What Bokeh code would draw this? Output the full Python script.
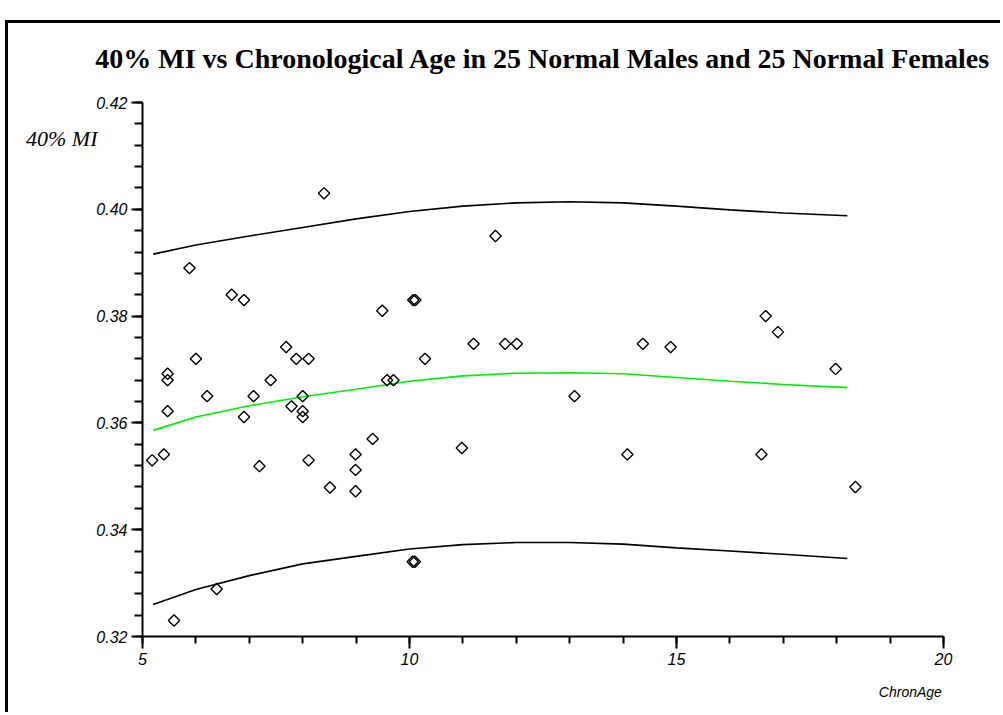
import numpy as np
from bokeh.plotting import figure
from bokeh.models import (Range1d, FixedTicker, PrintfTickFormatter, LinearAxis,
                          Title, CustomJSTickFormatter)
from bokeh.embed import file_html
from bokeh.resources import INLINE

# ---- data ----
chron_age = [8.40, 5.88, 6.67, 6.90, 9.49, 10.07, 10.11, 7.69, 6.00, 7.88,
             8.11, 10.29, 5.47, 5.47, 7.40, 9.58, 9.70, 6.21, 7.08, 8.00,
             5.47, 6.90, 7.79, 8.00, 8.00, 5.18, 5.40, 7.19, 8.11, 8.51,
             8.99, 8.99, 8.99, 9.31, 10.06, 10.10, 6.39, 5.59, 11.61, 11.20,
             11.79, 12.01, 14.37, 14.89, 13.09, 10.98, 14.08, 16.67, 16.90, 17.98,
             16.59, 18.35]
mi40 = [0.4030, 0.3890, 0.3840, 0.3830, 0.3810, 0.3830, 0.3830, 0.3742, 0.3720, 0.3720,
        0.3720, 0.3720, 0.3692, 0.3680, 0.3680, 0.3680, 0.3680, 0.3650, 0.3650, 0.3650,
        0.3622, 0.3611, 0.3631, 0.3622, 0.3611, 0.3530, 0.3541, 0.3519, 0.3530, 0.3479,
        0.3541, 0.3512, 0.3472, 0.3570, 0.3340, 0.3340, 0.3289, 0.3230, 0.3950, 0.3748,
        0.3748, 0.3748, 0.3748, 0.3742, 0.3650, 0.3553, 0.3541, 0.3800, 0.3770, 0.3701,
        0.3541, 0.3480]

curve_x = [5.2, 6, 7, 8, 9, 10, 11, 12, 13, 14, 15, 16, 17, 18.2]
fit_mid = [0.3586, 0.3611, 0.3632, 0.3649, 0.3663, 0.3678, 0.3688, 0.3693, 0.3694,
           0.3692, 0.3685, 0.3678, 0.3672, 0.3666]
fit_upper = [0.3916, 0.3933, 0.3950, 0.3966, 0.3982, 0.3996, 0.4006, 0.4012, 0.4014,
             0.4012, 0.4006, 0.3999, 0.3993, 0.3988]
fit_lower = [0.3260, 0.3288, 0.3314, 0.3336, 0.3350, 0.3364, 0.3372, 0.3376, 0.3376,
             0.3373, 0.3366, 0.3360, 0.3354, 0.3346]

x_major = [5, 10, 15, 20]
x_minor = list(range(5, 21))
y_major = [0.32, 0.34, 0.36, 0.38, 0.40, 0.42]
y_minor = [round(0.32 + 0.004 * i, 3) for i in range(26)]

title_text = "40% MI vs Chronological Age in 25 Normal Males and 25 Normal Females"
y_label = "40% MI"
x_label = "ChronAge"
y_label_at = 0.4133   # axis value beside which the y label sits
x_label_at = 19.38    # axis value under which the x label sits

# ---- figure ----
p = figure(width=995, height=692, title=None, toolbar_location=None,
           output_backend="svg",
           x_range=Range1d(5, 20), y_range=Range1d(0.32, 0.42),
           min_border_left=134, min_border_right=60,
           min_border_top=79, min_border_bottom=79,
           x_axis_type=None, y_axis_type=None)
p.styles = {"margin-left": "5px", "margin-top": "20px",
            "border-left": "3px solid black", "border-top": "3px solid black",
            "border-right": "0px none", "border-bottom": "0px none"}
p.outline_line_color = None
p.background_fill_color = "white"
p.border_fill_color = "white"

xa = LinearAxis(ticker=FixedTicker(ticks=x_major, minor_ticks=x_minor))
ya = LinearAxis(ticker=FixedTicker(ticks=y_major, minor_ticks=y_minor),
                formatter=PrintfTickFormatter(format="%.2f"))
for ax in (xa, ya):
    ax.axis_line_color = "black"
    ax.axis_line_width = 2
    ax.major_tick_line_color = "black"
    ax.minor_tick_line_color = "black"
    ax.major_tick_line_width = 2
    ax.minor_tick_line_width = 2
    ax.major_tick_in = 0
    ax.minor_tick_in = 0
    ax.major_label_text_font = "Liberation Sans"
    ax.major_label_text_font_style = "italic"
    ax.major_label_text_font_size = "16px"
    ax.major_label_text_color = "black"
    ax.major_label_standoff = 4
xa.major_tick_out = 12
xa.minor_tick_out = 7
ya.major_tick_out = 11
ya.minor_tick_out = 8
p.add_layout(xa, "below")
p.add_layout(ya, "left")

# axis titles placed as labels of extra, otherwise invisible axes
ya2 = LinearAxis(ticker=FixedTicker(ticks=[y_label_at], minor_ticks=[]),
                 formatter=CustomJSTickFormatter(code="return '%s'" % y_label))
xa2 = LinearAxis(ticker=FixedTicker(ticks=[x_label_at], minor_ticks=[]),
                 formatter=CustomJSTickFormatter(code="return '%s'" % x_label))
for ax in (ya2, xa2):
    ax.axis_line_color = None
    ax.major_tick_line_color = None
    ax.minor_tick_line_color = None
    ax.major_tick_out = 0
    ax.major_tick_in = 0
    ax.minor_tick_out = 0
    ax.minor_tick_in = 0
    ax.major_label_text_color = "black"
ya2.major_label_text_font = "Liberation Serif"
ya2.major_label_text_font_style = "italic"
ya2.major_label_text_font_size = "22px"
ya2.major_label_standoff = -4
xa2.major_label_text_font = "Liberation Sans"
xa2.major_label_text_font_style = "italic"
xa2.major_label_text_font_size = "14px"
xa2.major_label_standoff = 16
p.add_layout(ya2, "left")
p.add_layout(xa2, "below")

# blank spacer (nearest the plot area) and the title above it
spacer = Title(text=" ", text_font_size="10px", standoff=11, text_color="white")
p.add_layout(spacer, "above")
title = Title(text=title_text, align="center", text_font="Liberation Serif",
              text_font_style="bold", text_font_size="28px", text_color="black",
              standoff=10)
p.add_layout(title, "above")

p.line(curve_x, fit_upper, line_color="black", line_width=1.6)
p.line(curve_x, fit_lower, line_color="black", line_width=1.6)
p.line(curve_x, fit_mid, line_color="#00ee00", line_width=1.6)

p.scatter(chron_age, mi40, marker="square", angle=np.pi / 4, size=8,
          fill_color=None, line_color="black", line_width=1.4)

open("out.html", "w").write(file_html(p, INLINE))
